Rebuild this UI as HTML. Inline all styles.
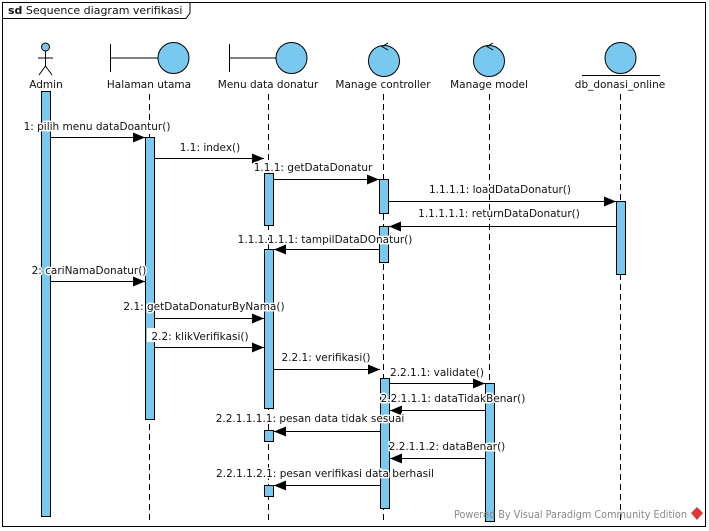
<!DOCTYPE html>
<html><head><meta charset="utf-8"><style>
html,body{margin:0;padding:0;background:#fff;}
svg{display:block;font-family:"DejaVu Sans","Liberation Sans",sans-serif;}
text{font-size:10.5px;fill:#111;}
.lb text{stroke:#fff;stroke-width:3px;paint-order:stroke;stroke-linejoin:round;}
</style></head><body>
<svg width="709" height="531" viewBox="0 0 709 531" xmlns="http://www.w3.org/2000/svg">
<defs>
<marker id="a" markerWidth="12" markerHeight="10" refX="12" refY="5" orient="auto" markerUnits="userSpaceOnUse"><path d="M0,0 L12,5 L0,10 Z" fill="#000"/></marker>
</defs>
<rect x="2.5" y="2.5" width="703" height="524" fill="none" stroke="#000"/>
<path d="M2.5,18.5 H186 L190,13 V2.5" fill="none" stroke="#000"/>
<text x="8" y="14" style="font-size:11px"><tspan font-weight="bold">sd</tspan> Sequence diagram verifikasi</text>

<g stroke="#000" stroke-dasharray="6,4" stroke-width="1">
<line x1="149.5" y1="94" x2="149.5" y2="520"/>
<line x1="268.5" y1="94" x2="268.5" y2="520"/>
<line x1="383.5" y1="94" x2="383.5" y2="520"/>
<line x1="489.5" y1="94" x2="489.5" y2="520"/>
<line x1="620.5" y1="94" x2="620.5" y2="520"/>
</g>

<g stroke="#000" fill="#79c8ef">
<circle cx="45.5" cy="47" r="4"/>
<line x1="45.5" y1="51" x2="45.5" y2="66" fill="none"/>
<line x1="38" y1="58" x2="53" y2="58"/>
<line x1="45.5" y1="66" x2="39" y2="75"/>
<line x1="45.5" y1="66" x2="52" y2="75"/>
<line x1="110.5" y1="44" x2="110.5" y2="72"/>
<line x1="110.5" y1="58" x2="158" y2="58"/>
<circle cx="173.5" cy="58" r="15.5"/>
<line x1="229.5" y1="44" x2="229.5" y2="72"/>
<line x1="229.5" y1="58" x2="276" y2="58"/>
<circle cx="291.5" cy="58" r="15.5"/>
<circle cx="384" cy="61" r="15.5"/>
<path d="M388,43 L382,46.5 L388,50" fill="none"/>
<circle cx="489" cy="61" r="15.5"/>
<path d="M493,43 L487,46.5 L493,50" fill="none"/>
<circle cx="620.5" cy="58" r="15.5"/>
<line x1="582" y1="75.5" x2="660" y2="75.5"/>
</g>
<g text-anchor="middle" class="lb">
<text x="46" y="88">Admin</text>
<text x="149" y="88">Halaman utama</text>
<text x="268" y="88">Menu data donatur</text>
<text x="383" y="88">Manage controller</text>
<text x="489" y="88">Manage model</text>
<text x="620" y="88">db_donasi_online</text>
</g>

<g fill="#79c8ef" stroke="#000">
<rect x="41.5" y="91.5" width="9" height="425"/>
<rect x="145.5" y="137.5" width="9" height="282"/>
<rect x="264.5" y="173.5" width="9" height="52"/>
<rect x="264.5" y="249.5" width="9" height="159"/>
<rect x="264.5" y="430.5" width="9" height="11"/>
<rect x="264.5" y="485.5" width="9" height="11"/>
<rect x="379.5" y="179.5" width="9" height="34"/>
<rect x="379.5" y="226.5" width="9" height="36"/>
<rect x="380.5" y="378.5" width="9" height="130"/>
<rect x="616.5" y="201.5" width="9" height="73"/>
<rect x="485.5" y="383.5" width="9" height="138"/>
</g>

<g stroke="#000" marker-end="url(#a)">
<line x1="51" y1="137.5" x2="145" y2="137.5"/>
<line x1="155" y1="158.5" x2="264" y2="158.5"/>
<line x1="274" y1="179.5" x2="379" y2="179.5"/>
<line x1="389" y1="201.5" x2="616" y2="201.5"/>
<line x1="616" y1="226.5" x2="389" y2="226.5"/>
<line x1="379" y1="249.5" x2="274" y2="249.5"/>
<line x1="51" y1="281.5" x2="145" y2="281.5"/>
<line x1="155" y1="318.5" x2="264" y2="318.5"/>
<line x1="155" y1="347.5" x2="264" y2="347.5"/>
<line x1="274" y1="369.5" x2="380" y2="369.5"/>
<line x1="390" y1="383.5" x2="485" y2="383.5"/>
<line x1="485" y1="410.5" x2="390" y2="410.5"/>
<line x1="380" y1="431.5" x2="274" y2="431.5"/>
<line x1="485" y1="458.5" x2="390" y2="458.5"/>
<line x1="380" y1="485.5" x2="274" y2="485.5"/>
</g>
<rect x="147" y="328" width="110" height="14" fill="#fff"/>
<g text-anchor="middle" class="lb">
<text x="97" y="130">1: pilih menu dataDoantur()</text>
<text x="210" y="151">1.1: index()</text>
<text x="313" y="171">1.1.1: getDataDonatur</text>
<text x="500" y="193">1.1.1.1: loadDataDonatur()</text>
<text x="499" y="217">1.1.1.1.1: returnDataDonatur()</text>
<text x="325" y="243">1.1.1.1.1.1: tampilDataDOnatur()</text>
<text x="89" y="274">2: cariNamaDonatur()</text>
<text x="204" y="310">2.1: getDataDonaturByNama()</text>
<text x="200" y="340">2.2: klikVerifikasi()</text>
<text x="326" y="361">2.2.1: verifikasi()</text>
<text x="437" y="376">2.2.1.1: validate()</text>
<text x="453" y="402">2.2.1.1.1: dataTidakBenar()</text>
<text x="310" y="422">2.2.1.1.1.1: pesan data tidak sesuai</text>
<text x="447" y="450">2.2.1.1.2: dataBenar()</text>
<text x="325" y="477">2.2.1.1.2.1: pesan verifikasi data berhasil</text>
</g>
<text x="454" y="518" textLength="233" lengthAdjust="spacingAndGlyphs" style="fill:#888">Powered By Visual Paradigm Community Edition</text>
<path d="M697,507 L703,513 L697,520 L691,513 Z" fill="#d9383a"/>
</svg>
</body></html>
